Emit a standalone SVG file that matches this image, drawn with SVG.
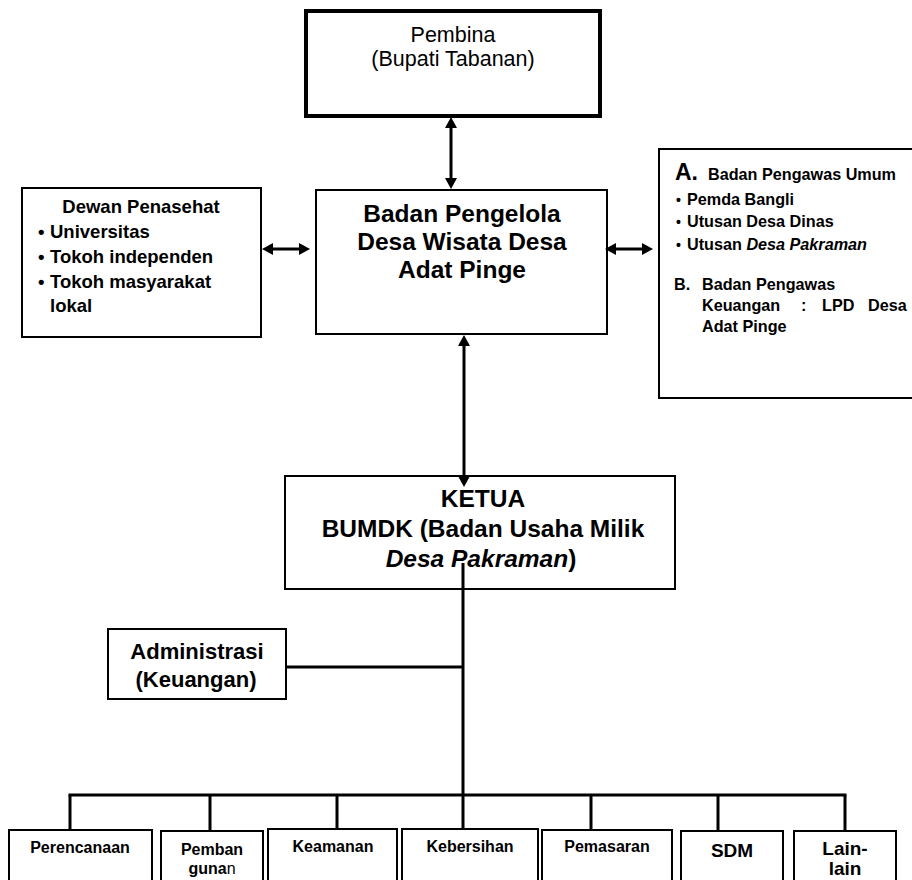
<svg xmlns="http://www.w3.org/2000/svg" width="912" height="880" viewBox="0 0 912 880">
<defs>
<marker id="ah" viewBox="0 0 11 12" refX="0" refY="6" markerWidth="11" markerHeight="12" markerUnits="userSpaceOnUse" orient="auto-start-reverse">
<path d="M0,0 L11,6 L0,12 z" fill="#000"/>
</marker>
</defs>
<style>
text{font-family:"Liberation Sans",Arial,sans-serif;fill:#000}
.b{font-weight:bold}
.box{fill:#fff;stroke:#000;stroke-width:2}
.conn{stroke:#000;stroke-width:3;fill:none}
.arr{stroke:#000;stroke-width:3;fill:none;marker-start:url(#ah);marker-end:url(#ah)}
.c{text-anchor:middle}
</style>
<rect width="912" height="880" fill="#fff"/>

<g id="pembina">
<rect x="306" y="11" width="294" height="105" fill="#fff" stroke="#000" stroke-width="4"/>
<text class="c" x="453" y="42" font-size="21.5">Pembina</text>
<text class="c" x="453" y="66" font-size="21.5">(Bupati Tabanan)</text>
</g>

<g id="dewan">
<rect class="box" x="22" y="188" width="239" height="149"/>
<text class="b c" x="141" y="213" font-size="18.5">Dewan Penasehat</text>
<text class="b" x="38" y="238" font-size="18.5">•</text>
<text class="b" x="50" y="238" font-size="18.5">Universitas</text>
<text class="b" x="38" y="263" font-size="18.5">•</text>
<text class="b" x="50" y="263" font-size="18.5">Tokoh independen</text>
<text class="b" x="38" y="288" font-size="18.5">•</text>
<text class="b" x="50" y="288" font-size="18.5">Tokoh masyarakat</text>
<text class="b" x="50" y="312" font-size="18.5">lokal</text>
</g>

<g id="pengelola">
<rect class="box" x="316" y="190" width="291" height="144"/>
<text class="b c" x="462" y="222" font-size="24.5">Badan Pengelola</text>
<text class="b c" x="462" y="250" font-size="24.5">Desa Wisata Desa</text>
<text class="b c" x="462" y="278" font-size="24.5">Adat Pinge</text>
</g>

<g id="pengawas">
<rect class="box" x="659" y="149" width="260" height="249"/>
<text class="b" x="675" y="180" font-size="23">A.</text>
<text class="b" x="708" y="180" font-size="16.2">Badan Pengawas Umum</text>
<text class="b" x="676" y="205" font-size="14">•</text>
<text class="b" x="687" y="205" font-size="16.2">Pemda Bangli</text>
<text class="b" x="676" y="227" font-size="14">•</text>
<text class="b" x="687" y="227" font-size="16.2">Utusan Desa Dinas</text>
<text class="b" x="676" y="250" font-size="14">•</text>
<text class="b" x="687" y="250" font-size="16.2">Utusan <tspan font-style="italic">Desa Pakraman</tspan></text>
<text class="b" x="674" y="290" font-size="16.2">B.</text>
<text class="b" x="702" y="290" font-size="16.2">Badan Pengawas</text>
<text class="b" x="702" y="311" font-size="16.2">Keuangan</text>
<text class="b" x="801" y="311" font-size="16.2">:</text>
<text class="b" x="822" y="311" font-size="16.2">LPD</text>
<text class="b" x="868" y="311" font-size="16.2">Desa</text>
<text class="b" x="702" y="332" font-size="16.2">Adat Pinge</text>
</g>

<g id="ketua">
<rect class="box" x="285" y="476" width="390" height="113"/>
<text class="b c" x="483" y="507" font-size="24.5">KETUA</text>
<text class="b c" x="483" y="537" font-size="24.5">BUMDK (Badan Usaha Milik</text>
<text class="b c" x="481" y="567" font-size="24.5"><tspan font-style="italic">Desa Pakraman</tspan>)</text>
</g>

<g id="administrasi">
<rect class="box" x="108" y="629" width="178" height="70"/>
<text class="b c" x="197" y="659" font-size="22">Administrasi</text>
<text class="b c" x="196" y="687" font-size="22">(Keuangan)</text>
</g>

<g id="perencanaan">
<rect class="box" x="9" y="830" width="143" height="70"/>
<text class="b c" x="80" y="853" font-size="16">Perencanaan</text>
</g>
<g id="pembangunan">
<rect class="box" x="161" y="831" width="102" height="70"/>
<text class="b c" x="212" y="855" font-size="16">Pemban</text>
<text class="c" x="212" y="874" font-size="16"><tspan font-weight="bold">guna</tspan>n</text>
</g>
<g id="keamanan">
<rect class="box" x="268" y="829" width="129" height="70"/>
<text class="b c" x="333" y="852" font-size="16">Keamanan</text>
</g>
<g id="kebersihan">
<rect class="box" x="402" y="829" width="136" height="70"/>
<text class="b c" x="470" y="852" font-size="16">Kebersihan</text>
</g>
<g id="pemasaran">
<rect class="box" x="542" y="830" width="130" height="70"/>
<text class="b c" x="607" y="852" font-size="16">Pemasaran</text>
</g>
<g id="sdm">
<rect class="box" x="681" y="831" width="102" height="70"/>
<text class="b c" x="732" y="857" font-size="19">SDM</text>
</g>
<g id="lainlain">
<rect class="box" x="794" y="831" width="102" height="70"/>
<text class="b c" x="845" y="855" font-size="19">Lain-</text>
<text class="b c" x="845" y="875" font-size="19">lain</text>
</g>

<g id="connectors">
<line class="arr" x1="451" y1="128" x2="451" y2="178"/>
<line class="arr" x1="273" y1="249" x2="299" y2="249"/>
<line class="arr" x1="616" y1="249" x2="642" y2="249"/>
<line class="arr" x1="464" y1="346" x2="464" y2="476"/>
<line class="conn" x1="463" y1="563" x2="463" y2="795"/>
<line class="conn" x1="286" y1="667" x2="463" y2="667"/>
<line class="conn" x1="68.5" y1="795" x2="846.5" y2="795"/>
<line class="conn" x1="70" y1="795" x2="70" y2="830"/>
<line class="conn" x1="210" y1="795" x2="210" y2="831"/>
<line class="conn" x1="337" y1="795" x2="337" y2="829"/>
<line class="conn" x1="463" y1="795" x2="463" y2="829"/>
<line class="conn" x1="591" y1="795" x2="591" y2="830"/>
<line class="conn" x1="718" y1="795" x2="718" y2="831"/>
<line class="conn" x1="845" y1="795" x2="845" y2="831"/>
</g>
</svg>
